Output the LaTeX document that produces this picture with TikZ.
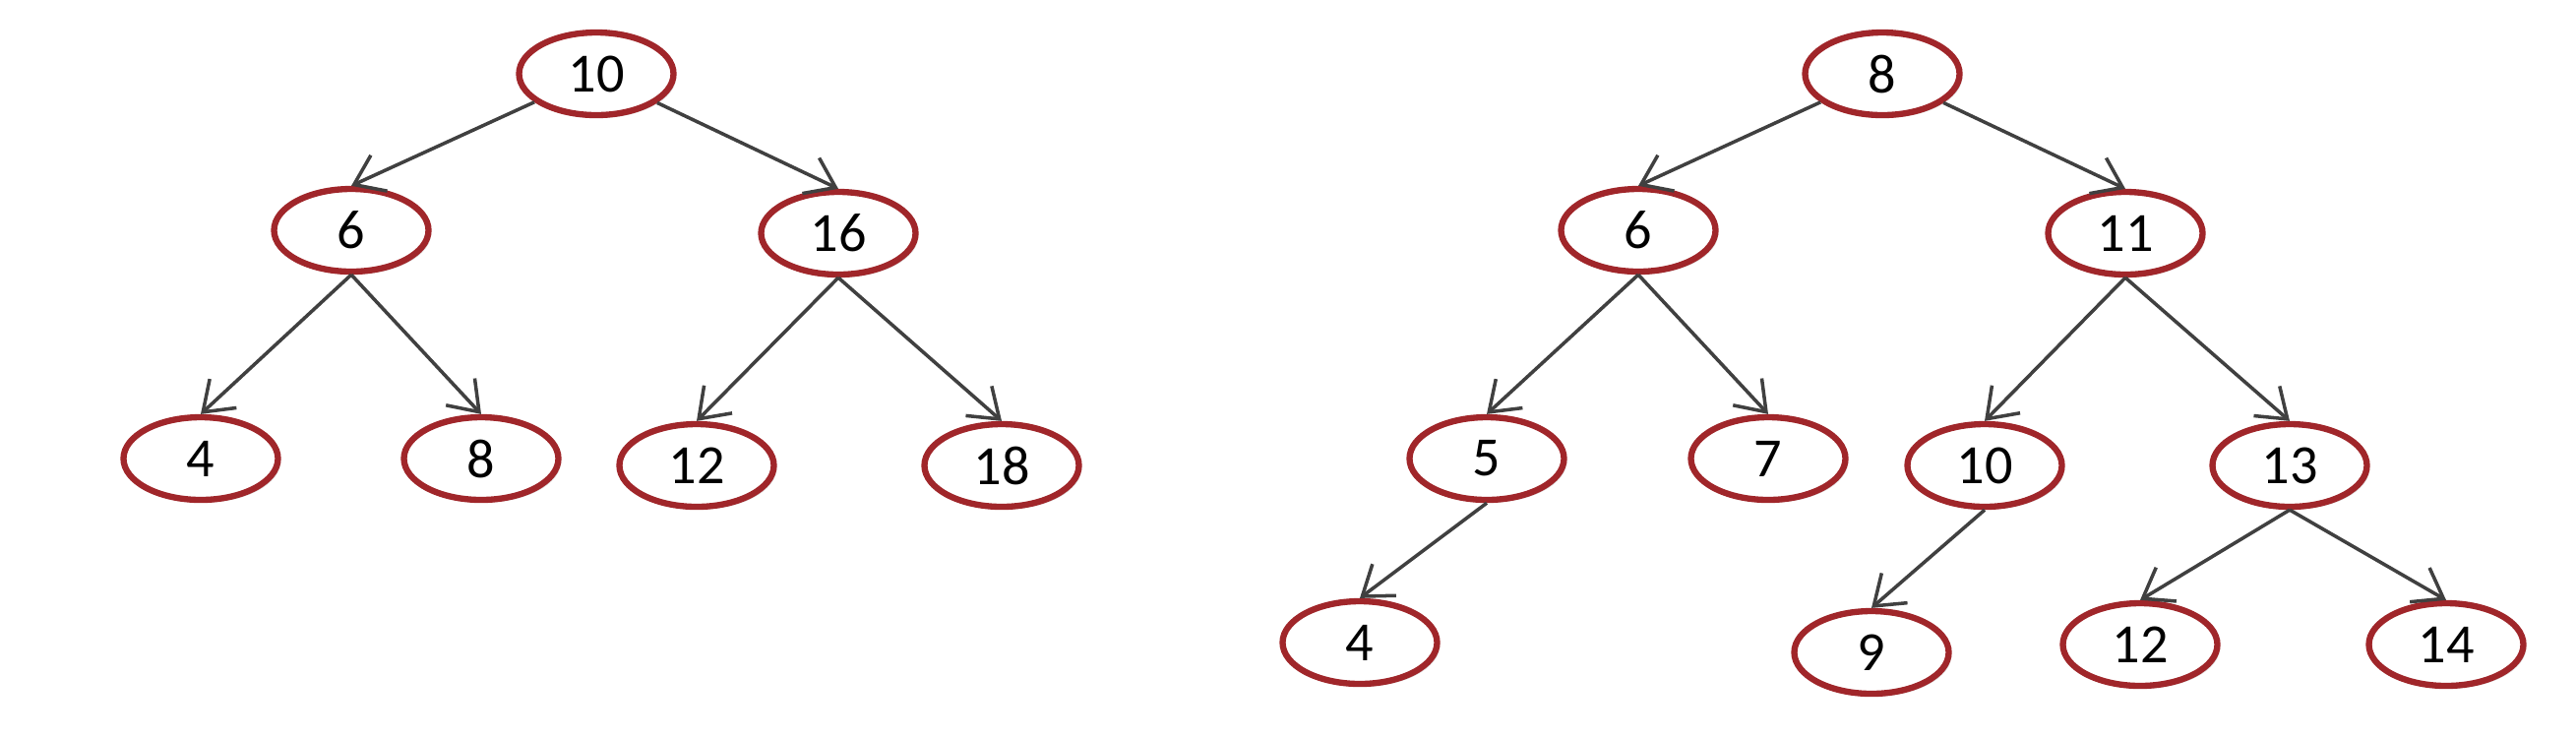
\documentclass[tikz,border=0pt]{standalone}
\usepackage{fontspec}
\setmainfont{Carlito}
\usepackage{tikz}
\usetikzlibrary{arrows.meta,shapes.geometric,shadows}
\definecolor{treered}{HTML}{A0262A}
\definecolor{treegray}{HTML}{404040}

\begin{document}
\begin{tikzpicture}[
  treenode/.style={
    ellipse,
    draw=treered,
    line width=1.8pt,
    fill=white,
    minimum width=1.57cm,
    minimum height=0.84cm,
    inner sep=0pt,
    font=\fontsize{16}{18}\selectfont,
    drop shadow={shadow xshift=0.8pt, shadow yshift=-0.8pt, opacity=0.12, fill=black}
  },
  link/.style={-{Straight Barb[length=2.8mm, width=4mm]}, line width=1pt, draw=treegray}
]

\useasboundingbox (0,0) rectangle (26.18,-7.49);

% left tree
\node[treenode] (l10) at (6.06,-0.75) {10};
\node[treenode] (l6)  at (3.57,-2.34) {6};
\node[treenode] (l16) at (8.52,-2.37) {16};
\node[treenode] (l4)  at (2.04,-4.66) {4};
\node[treenode] (l8)  at (4.89,-4.66) {8};
\node[treenode] (l12) at (7.08,-4.73) {12};
\node[treenode] (l18) at (10.18,-4.73) {18};

% right tree
\node[treenode] (r8)  at (19.13,-0.75) {8};
\node[treenode] (r6)  at (16.65,-2.34) {6};
\node[treenode] (r11) at (21.60,-2.37) {11};
\node[treenode] (r5)  at (15.11,-4.66) {5};
\node[treenode] (r7)  at (17.97,-4.66) {7};
\node[treenode] (r10) at (20.17,-4.73) {10};
\node[treenode] (r13) at (23.27,-4.73) {13};
\node[treenode] (r4)  at (13.82,-6.53) {4};
\node[treenode] (r9)  at (19.02,-6.63) {9};
\node[treenode] (r12) at (21.75,-6.55) {12};
\node[treenode] (r14) at (24.86,-6.55) {14};

\draw[link] (l10) -- (l6.north);
\draw[link] (l10) -- (l16.north);
\draw[link] (l6.south) -- (l4.north);
\draw[link] (l6.south) -- (l8.north);
\draw[link] (l16.south) -- (l12.north);
\draw[link] (l16.south) -- (l18.north);

\draw[link] (r8) -- (r6.north);
\draw[link] (r8) -- (r11.north);
\draw[link] (r6.south) -- (r5.north);
\draw[link] (r6.south) -- (r7.north);
\draw[link] (r11.south) -- (r10.north);
\draw[link] (r11.south) -- (r13.north);
\draw[link] (r5.south) -- (r4.north);
\draw[link] (r10.south) -- (r9.north);
\draw[link] (r13.south) -- (r12.north);
\draw[link] (r13.south) -- (r14.north);

\end{tikzpicture}
\end{document}
